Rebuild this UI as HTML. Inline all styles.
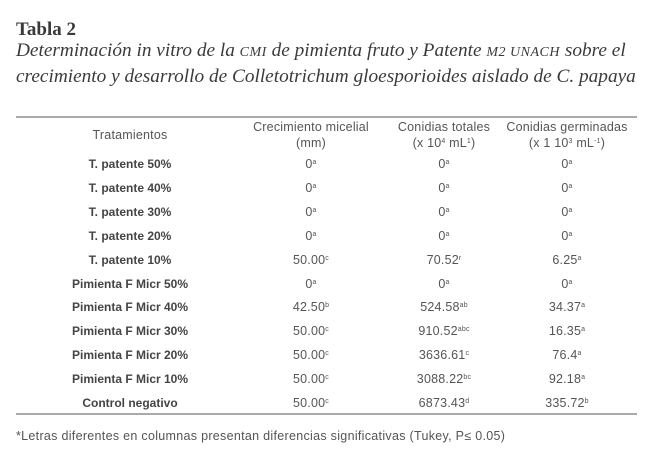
<!DOCTYPE html>
<html><head><meta charset="utf-8"><style>
body{margin:0;width:650px;height:465px;background:#fff;position:relative;overflow:hidden;font-family:"Liberation Sans",sans-serif;color:#555}
.t{position:absolute;white-space:nowrap}
.serif{font-family:"Liberation Serif",serif;color:#3a3a3a}
.sc{font-size:14px;letter-spacing:0.5px}
.rule{position:absolute;left:16px;width:621px;height:2px;background:#aaa}
.c{position:absolute;transform:translateX(-50%);white-space:nowrap;font-size:12.5px;letter-spacing:0.2px}
.l{font-weight:bold;color:#444;font-size:12px;letter-spacing:0}
sup{font-size:7px;vertical-align:4px}
</style></head><body>
<div class="t serif" style="left:16px;top:19px;font-size:19px;font-weight:bold">Tabla 2</div>
<div class="t serif" style="left:16px;top:40px;font-size:19.3px;font-style:italic">Determinación in vitro de la <span class="sc">CMI</span> de pimienta fruto y Patente <span class="sc">M2 UNACH</span> sobre el</div>
<div class="t serif" style="left:16px;top:66px;font-size:19.3px;font-style:italic">crecimiento y desarrollo de Colletotrichum gloesporioides aislado de C. papaya</div>
<div class="rule" style="top:116px"></div>
<div class="rule" style="top:413px"></div>
<div class="c" style="left:130px;top:128px">Tratamientos</div>
<div class="c" style="left:311px;top:120px">Crecimiento micelial</div>
<div class="c" style="left:311px;top:136px">(mm)</div>
<div class="c" style="left:444px;top:120px">Conidias totales</div>
<div class="c" style="left:444px;top:136px">(x 10<sup>4</sup> mL<sup>1</sup>)</div>
<div class="c" style="left:567px;top:120px">Conidias germinadas</div>
<div class="c" style="left:567px;top:136px">(x 1 10<sup>3</sup> mL<sup>-1</sup>)</div>
<div id="rows"></div>
<div class="t" style="left:16px;top:429px;font-size:12.5px;letter-spacing:0.3px">*Letras diferentes en columnas presentan diferencias significativas (Tukey, P≤ 0.05)</div>
<script>
var d=[["T. patente 50%","0<sup>a</sup>","0<sup>a</sup>","0<sup>a</sup>"],
["T. patente 40%","0<sup>a</sup>","0<sup>a</sup>","0<sup>a</sup>"],
["T. patente 30%","0<sup>a</sup>","0<sup>a</sup>","0<sup>a</sup>"],
["T. patente 20%","0<sup>a</sup>","0<sup>a</sup>","0<sup>a</sup>"],
["T. patente 10%","50.00<sup>c</sup>","70.52<sup>r</sup>","6.25<sup>a</sup>"],
["Pimienta F Micr 50%","0<sup>a</sup>","0<sup>a</sup>","0<sup>a</sup>"],
["Pimienta F Micr 40%","42.50<sup>b</sup>","524.58<sup>ab</sup>","34.37<sup>a</sup>"],
["Pimienta F Micr 30%","50.00<sup>c</sup>","910.52<sup>abc</sup>","16.35<sup>a</sup>"],
["Pimienta F Micr 20%","50.00<sup>c</sup>","3636.61<sup>c</sup>","76.4<sup>a</sup>"],
["Pimienta F Micr 10%","50.00<sup>c</sup>","3088.22<sup>bc</sup>","92.18<sup>a</sup>"],
["Control negativo","50.00<sup>c</sup>","6873.43<sup>d</sup>","335.72<sup>b</sup>"]];
var h="",xs=[130,311,444,567];
d.forEach(function(r,i){var y=157+i*23.9;r.forEach(function(v,j){h+='<div class="c'+(j?'':' l')+'" style="left:'+xs[j]+'px;top:'+y+'px">'+v+'</div>';});});
document.getElementById("rows").innerHTML=h;
</script>
</body></html>
